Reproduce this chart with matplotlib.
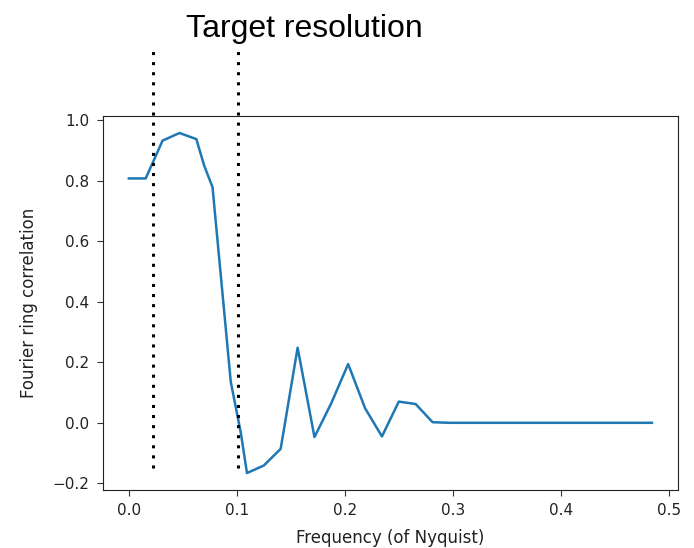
import matplotlib
matplotlib.use("Agg")
import matplotlib.pyplot as plt
import numpy as np

freq = [0.0, 0.0156, 0.03125, 0.0469, 0.0625, 0.0697, 0.0775, 0.0944, 0.1037,
        0.1094, 0.125, 0.1406, 0.1563, 0.1719, 0.1875, 0.2031, 0.2188, 0.2344,
        0.25, 0.2656, 0.2813, 0.2969, 0.3125, 0.3281, 0.3438, 0.3594, 0.375,
        0.3906, 0.4063, 0.4219, 0.4375, 0.4531, 0.4688, 0.4844]
frc = [0.807, 0.807, 0.932, 0.957, 0.937, 0.850, 0.778, 0.135, -0.033,
       -0.166, -0.141, -0.086, 0.248, -0.047, 0.065, 0.194, 0.048, -0.045,
       0.070, 0.062, 0.002, 0.0, 0.0, 0.0, 0.0, 0.0, 0.0,
       0.0, 0.0, 0.0, 0.0, 0.0, 0.0, 0.0]
target_lines = [0.022, 0.1015]
line_span = (-0.148, 1.228)
xticks = [0.0, 0.1, 0.2, 0.3, 0.4, 0.5]
yticks = [-0.2, 0.0, 0.2, 0.4, 0.6, 0.8, 1.0]

fig = plt.figure(figsize=(6.94, 5.48), dpi=100)
ax = fig.add_axes([0.148, 0.106, 0.829, 0.682])
ax.plot(freq, frc, color='#1f77b4', lw=1.8)
for xv in target_lines:
    ax.plot([xv, xv], list(line_span), color='black', lw=2.2,
            linestyle=(0, (1, 2.3)), clip_on=False)
ax.set_xlim(-0.0242, 0.5086)
ax.set_ylim(-0.2216, 1.0126)
ax.set_xticks(xticks)
ax.set_yticks(yticks)
ax.tick_params(labelsize=11, length=4.5, pad=5, color='#333333', labelcolor='#222222')
for s in ax.spines.values():
    s.set_color('#222222')
ax.set_xlabel("Frequency (of Nyquist)", fontsize=12, color='#222222')
ax.set_ylabel("Fourier ring correlation", fontsize=12, color='#222222')
ax.xaxis.set_label_coords(0.5, -0.104)
ax.yaxis.set_label_coords(-0.113, 0.5)
fig.text(304/694, 1 - 37/548, "Target resolution", ha='center', va='baseline',
         fontsize=23, family=['Liberation Sans', 'DejaVu Sans'])
fig.savefig("out.png", dpi=100)
